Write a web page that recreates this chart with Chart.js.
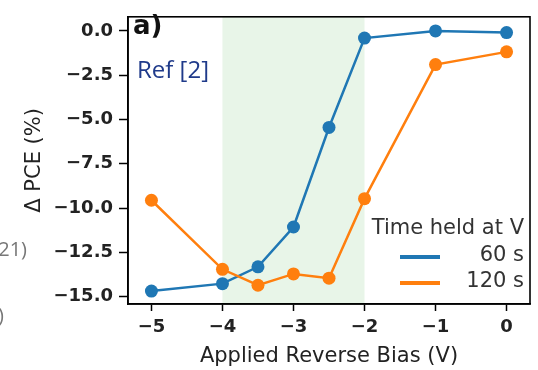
<!DOCTYPE html>
<html>
<head>
<meta charset="utf-8">
<script src="https://cdn.jsdelivr.net/npm/chart.js@4"></script>
<style>
  html, body { margin: 0; padding: 0; background: #fff; }
  #wrap { width: 538px; height: 370px; }
</style>
</head>
<body>
<div id="wrap"><canvas id="myChart" width="538" height="370"></canvas></div>
<script>
// data
const biasV = [-5, -4, -3.5, -3, -2.5, -2, -1, 0];
const pce60 = [-14.69, -14.27, -13.32, -11.07, -5.45, -0.40, 0.0, -0.09];
const pce120 = [-9.56, -13.46, -14.36, -13.72, -13.96, -9.47, -1.90, -1.18];
const seriesLabels = ["60 s", "120 s"];
const seriesColors = ["#1f77b4", "#ff7f0e"];
const shadedRange = [-4, -2];
const xTicks = [-5, -4, -3, -2, -1, 0];
const yTicks = [0, -2.5, -5, -7.5, -10, -12.5, -15];

// matplotlib style labels with a real minus sign
const fmt = (v, d) => (v < 0 ? "\u2212" : "") + Math.abs(v).toFixed(d);

const toPoints = ys => biasV.map((x, i) => ({ x: x, y: ys[i] }));

const shadePlugin = {
  id: 'shade',
  beforeDatasetsDraw(chart) {
    const { ctx, chartArea: a, scales: { x } } = chart;
    const x0 = x.getPixelForValue(shadedRange[0]);
    const x1 = x.getPixelForValue(shadedRange[1]);
    ctx.save();
    ctx.fillStyle = 'rgba(44,160,44,0.11)';
    ctx.fillRect(x0, a.top, x1 - x0, a.bottom - a.top);
    ctx.restore();
  }
};

const decorPlugin = {
  id: 'decor',
  afterDraw(chart) {
    const { ctx, chartArea: a } = chart;
    ctx.save();
    // frame
    ctx.strokeStyle = '#000';
    ctx.lineWidth = 1.6;
    ctx.strokeRect(a.left, a.top, a.right - a.left, a.bottom - a.top);

    // panel label and reference
    ctx.textBaseline = 'middle';
    ctx.textAlign = 'left';
    ctx.fillStyle = '#111';
    ctx.font = 'bold 26px "DejaVu Sans"';
    ctx.fillText('a)', a.left + 5, 27);
    ctx.fillStyle = '#1f3a8a';
    ctx.font = '24px "Open Sans"';
    ctx.fillText('Ref [2]', a.left + 9, 71);

    // legend
    const rx = a.right - 6;
    ctx.textAlign = 'right';
    ctx.fillStyle = '#333';
    ctx.font = '21px "DejaVu Sans"';
    ctx.fillText('Time held at V', rx, 229);
    chart.data.datasets.forEach((ds, i) => {
      const y = 256 + i * 26;
      ctx.fillText(ds.label, rx, y);
      ctx.strokeStyle = ds.borderColor;
      ctx.lineWidth = 4;
      ctx.beginPath();
      ctx.moveTo(400, y + 1);
      ctx.lineTo(440, y + 1);
      ctx.stroke();
    });

    // cropped text from neighbouring panel
    ctx.fillStyle = '#777';
    ctx.font = '20px "Open Sans"';
    ctx.fillText('21)', 27, 250);
    ctx.fillText(')', 4, 316);
    ctx.restore();
  }
};

const tickFont = { family: 'DejaVu Sans', size: 18, weight: 'bold' };
const titleFont = { family: 'DejaVu Sans', size: 21 };

const config = {
  type: 'line',
  data: {
    datasets: [
      {
        label: seriesLabels[0],
        data: toPoints(pce60),
        borderColor: seriesColors[0],
        backgroundColor: seriesColors[0],
        borderWidth: 2.5,
        pointRadius: 6.5,
        pointBorderWidth: 0,
        tension: 0,
        order: 1,
      },
      {
        label: seriesLabels[1],
        data: toPoints(pce120),
        borderColor: seriesColors[1],
        backgroundColor: seriesColors[1],
        borderWidth: 2.5,
        pointRadius: 6.5,
        pointBorderWidth: 0,
        tension: 0,
        order: 0,
      },
    ],
  },
  options: {
    responsive: false,
    animation: false,
    events: [],
    layout: { autoPadding: false, padding: { top: 8, right: 8, left: 0, bottom: 0 } },
    plugins: { legend: { display: false }, tooltip: { enabled: false } },
    scales: {
      x: {
        type: 'linear',
        min: -5.33,
        max: 0.33,
        afterFit: s => { s.height = 66; },
        afterBuildTicks: s => { s.ticks = xTicks.map(v => ({ value: v })); },
        grid: { drawOnChartArea: false, drawTicks: true, tickLength: 7, tickColor: '#000', tickWidth: 1.5 },
        border: { display: true, color: '#000', width: 1.6 },
        ticks: {
          padding: 6,
          color: '#222',
          font: tickFont,
          callback: v => fmt(v, 0),
        },
        title: {
          display: true,
          text: 'Applied Reverse Bias (V)',
          color: '#222',
          font: titleFont,
          padding: { top: 0, bottom: 1 },
        },
      },
      y: {
        type: 'linear',
        min: -15.42,
        max: 0.8,
        afterFit: s => { s.width = 128; },
        afterBuildTicks: s => { s.ticks = yTicks.map(v => ({ value: v })); },
        grid: { drawOnChartArea: false, drawTicks: true, tickLength: 9, tickColor: '#000', tickWidth: 1.5 },
        border: { display: true, color: '#000', width: 1.6 },
        ticks: {
          padding: 6,
          color: '#222',
          font: tickFont,
          callback: v => fmt(v, 1),
        },
        title: {
          display: true,
          text: '\u0394 PCE (%)',
          color: '#222',
          font: titleFont,
          padding: { top: 22, bottom: 0 },
        },
      },
    },
  },
  plugins: [shadePlugin, decorPlugin],
};

const myChart = new Chart(document.getElementById('myChart'), config);
</script>
</body>
</html>
